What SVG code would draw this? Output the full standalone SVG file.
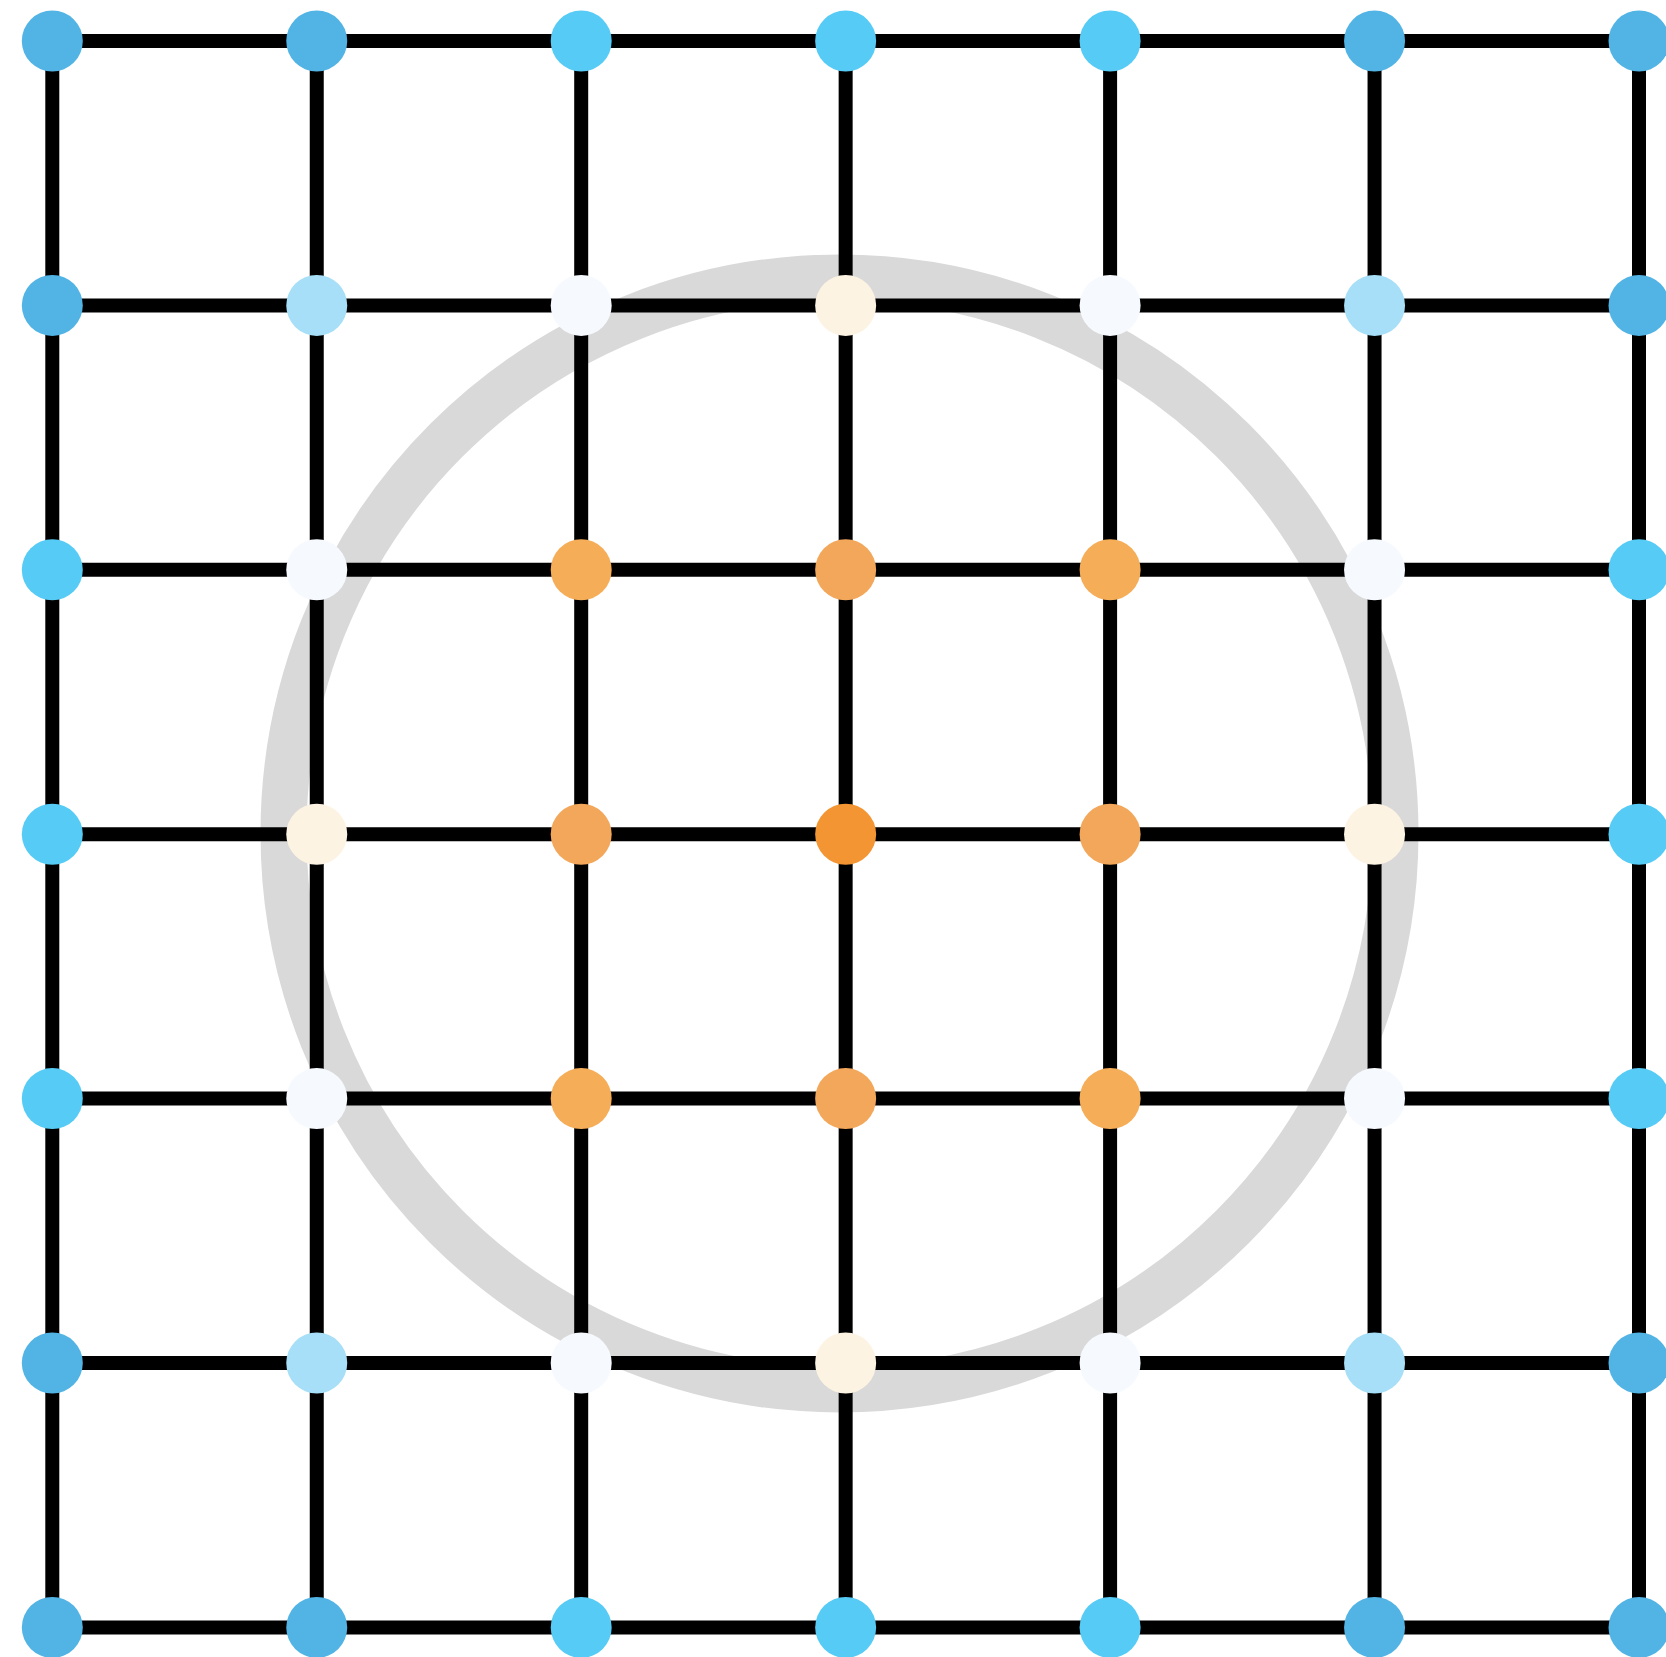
<svg xmlns="http://www.w3.org/2000/svg" width="1666" height="1657" viewBox="0 0 1666 1657">
<style>
.ln{stroke:#000;stroke-width:14;fill:none}
.n{stroke:none}
.dk{fill:#52B3E5}.cy{fill:#56CBF5}.lb{fill:#A6DFF7}.wh{fill:#F6FAFE}.cr{fill:#FDF3E3}.or{fill:#F5AD58}.o2{fill:#F3A75B}.ct{fill:#F39532}
</style>
<rect width="1666" height="1657" fill="#fff"/>
<circle id="ring" cx="839.5" cy="833.5" r="556" fill="none" stroke="#D9D9D9" stroke-width="46"/>
<g id="connectors" class="ln">
<line x1="52.3" y1="41" x2="1639" y2="41"/>
<line x1="52.3" y1="305.4" x2="1639" y2="305.4"/>
<line x1="52.3" y1="569.8" x2="1639" y2="569.8"/>
<line x1="52.3" y1="834.2" x2="1639" y2="834.2"/>
<line x1="52.3" y1="1098.6" x2="1639" y2="1098.6"/>
<line x1="52.3" y1="1363" x2="1639" y2="1363"/>
<line x1="52.3" y1="1627.4" x2="1639" y2="1627.4"/>
<line x1="52.3" y1="41" x2="52.3" y2="1627.4"/>
<line x1="316.75" y1="41" x2="316.75" y2="1627.4"/>
<line x1="581.2" y1="41" x2="581.2" y2="1627.4"/>
<line x1="845.65" y1="41" x2="845.65" y2="1627.4"/>
<line x1="1110.1" y1="41" x2="1110.1" y2="1627.4"/>
<line x1="1374.55" y1="41" x2="1374.55" y2="1627.4"/>
<line x1="1639" y1="41" x2="1639" y2="1627.4"/>
</g>
<g id="n00"><circle class="n dk" cx="52.3" cy="41" r="30.5"/></g>
<g id="n01"><circle class="n dk" cx="316.75" cy="41" r="30.5"/></g>
<g id="n02"><circle class="n cy" cx="581.2" cy="41" r="30.5"/></g>
<g id="n03"><circle class="n cy" cx="845.65" cy="41" r="30.5"/></g>
<g id="n04"><circle class="n cy" cx="1110.1" cy="41" r="30.5"/></g>
<g id="n05"><circle class="n dk" cx="1374.55" cy="41" r="30.5"/></g>
<g id="n06"><circle class="n dk" cx="1639" cy="41" r="30.5"/></g>

<g id="n10"><circle class="n dk" cx="52.3" cy="305.4" r="30.5"/></g>
<g id="n11"><circle class="n lb" cx="316.75" cy="305.4" r="30.5"/></g>
<g id="n12"><circle class="n wh" cx="581.2" cy="305.4" r="30.5"/></g>
<g id="n13"><circle class="n cr" cx="845.65" cy="305.4" r="30.5"/></g>
<g id="n14"><circle class="n wh" cx="1110.1" cy="305.4" r="30.5"/></g>
<g id="n15"><circle class="n lb" cx="1374.55" cy="305.4" r="30.5"/></g>
<g id="n16"><circle class="n dk" cx="1639" cy="305.4" r="30.5"/></g>

<g id="n20"><circle class="n cy" cx="52.3" cy="569.8" r="30.5"/></g>
<g id="n21"><circle class="n wh" cx="316.75" cy="569.8" r="30.5"/></g>
<g id="n22"><circle class="n or" cx="581.2" cy="569.8" r="30.5"/></g>
<g id="n23"><circle class="n o2" cx="845.65" cy="569.8" r="30.5"/></g>
<g id="n24"><circle class="n or" cx="1110.1" cy="569.8" r="30.5"/></g>
<g id="n25"><circle class="n wh" cx="1374.55" cy="569.8" r="30.5"/></g>
<g id="n26"><circle class="n cy" cx="1639" cy="569.8" r="30.5"/></g>

<g id="n30"><circle class="n cy" cx="52.3" cy="834.2" r="30.5"/></g>
<g id="n31"><circle class="n cr" cx="316.75" cy="834.2" r="30.5"/></g>
<g id="n32"><circle class="n o2" cx="581.2" cy="834.2" r="30.5"/></g>
<g id="n33"><circle class="n ct" cx="845.65" cy="834.2" r="30.5"/></g>
<g id="n34"><circle class="n o2" cx="1110.1" cy="834.2" r="30.5"/></g>
<g id="n35"><circle class="n cr" cx="1374.55" cy="834.2" r="30.5"/></g>
<g id="n36"><circle class="n cy" cx="1639" cy="834.2" r="30.5"/></g>

<g id="n40"><circle class="n cy" cx="52.3" cy="1098.6" r="30.5"/></g>
<g id="n41"><circle class="n wh" cx="316.75" cy="1098.6" r="30.5"/></g>
<g id="n42"><circle class="n or" cx="581.2" cy="1098.6" r="30.5"/></g>
<g id="n43"><circle class="n o2" cx="845.65" cy="1098.6" r="30.5"/></g>
<g id="n44"><circle class="n or" cx="1110.1" cy="1098.6" r="30.5"/></g>
<g id="n45"><circle class="n wh" cx="1374.55" cy="1098.6" r="30.5"/></g>
<g id="n46"><circle class="n cy" cx="1639" cy="1098.6" r="30.5"/></g>

<g id="n50"><circle class="n dk" cx="52.3" cy="1363" r="30.5"/></g>
<g id="n51"><circle class="n lb" cx="316.75" cy="1363" r="30.5"/></g>
<g id="n52"><circle class="n wh" cx="581.2" cy="1363" r="30.5"/></g>
<g id="n53"><circle class="n cr" cx="845.65" cy="1363" r="30.5"/></g>
<g id="n54"><circle class="n wh" cx="1110.1" cy="1363" r="30.5"/></g>
<g id="n55"><circle class="n lb" cx="1374.55" cy="1363" r="30.5"/></g>
<g id="n56"><circle class="n dk" cx="1639" cy="1363" r="30.5"/></g>

<g id="n60"><circle class="n dk" cx="52.3" cy="1627.4" r="30.5"/></g>
<g id="n61"><circle class="n dk" cx="316.75" cy="1627.4" r="30.5"/></g>
<g id="n62"><circle class="n cy" cx="581.2" cy="1627.4" r="30.5"/></g>
<g id="n63"><circle class="n cy" cx="845.65" cy="1627.4" r="30.5"/></g>
<g id="n64"><circle class="n cy" cx="1110.1" cy="1627.4" r="30.5"/></g>
<g id="n65"><circle class="n dk" cx="1374.55" cy="1627.4" r="30.5"/></g>
<g id="n66"><circle class="n dk" cx="1639" cy="1627.4" r="30.5"/></g>
</svg>
